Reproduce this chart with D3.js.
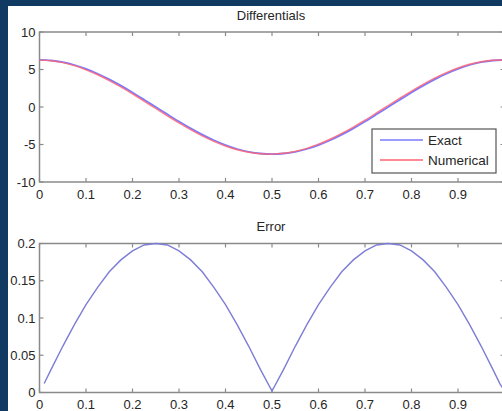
<!DOCTYPE html>
<html>
<head>
<meta charset="utf-8">
<script src="https://cdn.jsdelivr.net/npm/d3@7"></script>
<style>
  body { margin: 0; background: #113a62; }
  svg { display: block; }
  text { font-family: "Liberation Sans", Arial, sans-serif; fill: #262626; }
</style>
</head>
<body>
<script>
// Data
var xTicks = [0, 0.1, 0.2, 0.3, 0.4, 0.5, 0.6, 0.7, 0.8, 0.9];
var diffTicks = [-10, -5, 0, 5, 10];
var errTicks = [0, 0.05, 0.1, 0.15, 0.2];

var xs = [0, 0.025, 0.05, 0.075, 0.1, 0.125, 0.15, 0.175, 0.2, 0.225,
          0.25, 0.275, 0.3, 0.325, 0.35, 0.375, 0.4, 0.425, 0.45, 0.475,
          0.5, 0.525, 0.55, 0.575, 0.6, 0.625, 0.65, 0.675, 0.7, 0.725,
          0.75, 0.775, 0.8, 0.825, 0.85, 0.875, 0.9, 0.925, 0.95, 0.975, 1];
var exact = [6.28, 6.20, 5.97, 5.60, 5.08, 4.44, 3.69, 2.85, 1.94, 0.98,
             0, -0.98, -1.94, -2.85, -3.69, -4.44, -5.08, -5.60, -5.97, -6.20,
             -6.28, -6.20, -5.97, -5.60, -5.08, -4.44, -3.69, -2.85, -1.94, -0.98,
             0, 0.98, 1.94, 2.85, 3.69, 4.44, 5.08, 5.60, 5.97, 6.20, 6.28];
var numerical = [6.28, 6.17, 5.91, 5.51, 4.96, 4.30, 3.53, 2.67, 1.75, 0.78,
                 -0.20, -1.18, -2.13, -3.03, -3.85, -4.58, -5.20, -5.70, -6.03, -6.23,
                 -6.28, -6.17, -5.91, -5.51, -4.96, -4.30, -3.53, -2.67, -1.75, -0.78,
                 0.20, 1.18, 2.13, 3.03, 3.85, 4.58, 5.20, 5.70, 6.03, 6.23, 6.28];

var errX = [0.01, 0.025, 0.05, 0.075, 0.1, 0.125, 0.15, 0.175, 0.2, 0.225,
            0.25, 0.275, 0.3, 0.325, 0.35, 0.375, 0.4, 0.425, 0.45, 0.475,
            0.5, 0.525, 0.55, 0.575, 0.6, 0.625, 0.65, 0.675, 0.7, 0.725,
            0.75, 0.775, 0.8, 0.825, 0.85, 0.875, 0.9, 0.925, 0.95, 0.975, 0.99, 1];
var errY = [0.012, 0.031, 0.062, 0.091, 0.118, 0.141, 0.162, 0.178, 0.190, 0.198,
            0.200, 0.198, 0.190, 0.178, 0.162, 0.141, 0.118, 0.091, 0.062, 0.031,
            0.002, 0.031, 0.062, 0.091, 0.118, 0.141, 0.162, 0.178, 0.190, 0.198,
            0.200, 0.198, 0.190, 0.178, 0.162, 0.141, 0.118, 0.091, 0.062, 0.031, 0.012, 0.002];

var width = 502, height = 411;

var svg = d3.select('body').append('svg')
            .attr('width', width)
            .attr('height', height);

// white figure area
svg.append('rect')
   .attr('x', 8).attr('y', 6)
   .attr('width', width - 8).attr('height', height - 6)
   .style('fill', 'white');

var xScale = d3.scaleLinear().domain([0, 1]).range([39.5, 504.5]);
var yTop = d3.scaleLinear().domain([-10, 10]).range([182, 32]);
var yBot = d3.scaleLinear().domain([0, 0.2]).range([392.5, 243.5]);

var axisColor = '#8a8a8a';

function drawPanel(yScale, ticks, title) {
  var g = svg.append('g');
  var y0 = yScale.range()[0], y1 = yScale.range()[1];
  var x0 = xScale.range()[0], x1 = xScale.range()[1];

  // tick marks, inward on all four sides
  xTicks.forEach(function(t) {
    var x = xScale(t);
    g.append('line').attr('x1', x).attr('x2', x).attr('y1', y0).attr('y2', y0 - 4)
     .style('stroke', axisColor).style('stroke-width', 1.2);
    g.append('line').attr('x1', x).attr('x2', x).attr('y1', y1).attr('y2', y1 + 4)
     .style('stroke', axisColor).style('stroke-width', 1.2);
  });
  ticks.forEach(function(t) {
    var y = yScale(t);
    g.append('line').attr('x1', x0).attr('x2', x0 + 4).attr('y1', y).attr('y2', y)
     .style('stroke', axisColor).style('stroke-width', 1.2);
    g.append('line').attr('x1', x1).attr('x2', x1 - 4).attr('y1', y).attr('y2', y)
     .style('stroke', axisColor).style('stroke-width', 1.2);
  });

  g.append('rect')
   .attr('x', x0).attr('y', y1)
   .attr('width', x1 - x0).attr('height', y0 - y1)
   .style('fill', 'none')
   .style('stroke', axisColor)
   .style('stroke-width', 1.5);

  g.selectAll('.xl')
   .data(xTicks)
   .enter()
   .append('text')
   .attr('x', function(d) { return xScale(d); })
   .attr('y', y0 + 16.5)
   .style('text-anchor', 'middle')
   .style('font-size', '13px')
   .text(function(d) { return String(d); });

  g.selectAll('.yl')
   .data(ticks)
   .enter()
   .append('text')
   .attr('x', x0 - 4)
   .attr('y', function(d) { return yScale(d) + 4.5; })
   .style('text-anchor', 'end')
   .style('font-size', '13px')
   .text(function(d) { return String(d); });

  g.append('text')
   .attr('x', 271)
   .attr('y', y1 - 12.5)
   .style('text-anchor', 'middle')
   .style('font-size', '13px')
   .text(title);
}

drawPanel(yTop, diffTicks, 'Differentials');
drawPanel(yBot, errTicks, 'Error');

// clip to plot areas
svg.append('clipPath').attr('id', 'clipTop')
   .append('rect').attr('x', 39.5).attr('y', 32).attr('width', 465).attr('height', 150);

var lineTop = d3.line()
                .x(function(d) { return xScale(d[0]); })
                .y(function(d) { return yTop(d[1]); })
                .curve(d3.curveMonotoneX);

svg.append('path')
   .datum(xs.map(function(x, i) { return [x, exact[i]]; }))
   .attr('d', lineTop)
   .attr('clip-path', 'url(#clipTop)')
   .style('fill', 'none')
   .style('stroke', '#7b7bff')
   .style('stroke-width', 1.8);

svg.append('path')
   .datum(xs.map(function(x, i) { return [x, numerical[i]]; }))
   .attr('d', lineTop)
   .attr('clip-path', 'url(#clipTop)')
   .style('fill', 'none')
   .style('stroke', '#ff6474')
   .style('stroke-width', 1.4)
   .style('opacity', 0.85);

var lineBot = d3.line()
                .x(function(d) { return xScale(d[0]); })
                .y(function(d) { return yBot(d[1]); });

svg.append('path')
   .datum(errX.map(function(x, i) { return [x, errY[i]]; }))
   .attr('d', lineBot)
   .style('fill', 'none')
   .style('stroke', '#7d7dd6')
   .style('stroke-width', 1.4);

// legend
var legend = svg.append('g');
legend.append('rect')
      .attr('x', 372).attr('y', 129)
      .attr('width', 124).attr('height', 44)
      .style('fill', 'white')
      .style('stroke', '#555')
      .style('stroke-width', 1.2);

var legendItems = [['Exact', '#7b7bff'], ['Numerical', '#ff6474']];
legendItems.forEach(function(item, i) {
  var y = 140 + i * 20;
  legend.append('line')
        .attr('x1', 380).attr('x2', 423).attr('y1', y).attr('y2', y)
        .style('stroke', item[1]).style('stroke-width', 1.6);
  legend.append('text')
        .attr('x', 428).attr('y', y + 5)
        .style('font-size', '13.5px')
        .text(item[0]);
});
</script>
</body>
</html>
